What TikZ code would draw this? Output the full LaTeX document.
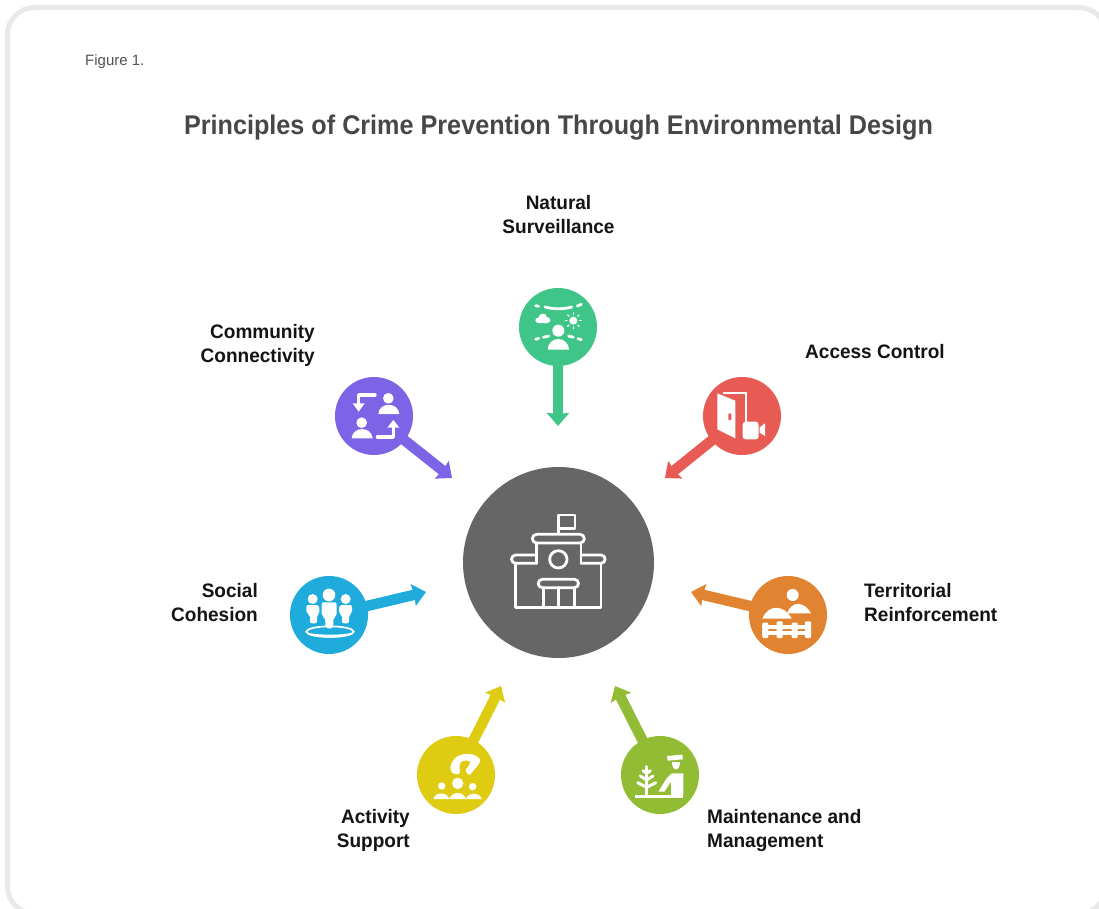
\documentclass[tikz,border=0pt]{standalone}
\usepackage{fontspec}
\setmainfont{Liberation Sans}
\newfontfamily\titlefont[FakeStretch=0.933]{Liberation Sans}
\newfontfamily\labfont[FakeStretch=0.975]{Liberation Sans}
\usetikzlibrary{arrows.meta}
\definecolor{cgreen}{HTML}{3FC587}
\definecolor{cred}{HTML}{E85A54}
\definecolor{cpurple}{HTML}{7D63E6}
\definecolor{cblue}{HTML}{1FABDC}
\definecolor{corange}{HTML}{E08431}
\definecolor{cyellow}{HTML}{DFCC12}
\definecolor{colive}{HTML}{92BC34}
\definecolor{cgrey}{HTML}{666666}
\definecolor{cframe}{HTML}{E8E9EA}
\tikzset{
  x=1pt,y=-1pt,
  hub/.style={circle,draw=none,inner sep=0pt,minimum size=78pt,fill=#1},
  arr/.style={draw=#1,line width=10.5pt,shorten <=-4pt,-{Stealth[width=22pt,length=13pt,inset=1pt]}},
  lab/.style={font=\labfont\fontsize{19.5}{24}\selectfont\bfseries,text=black!92,inner sep=0pt},
  wl/.style={draw=white,line cap=round,line join=round,line width=#1},
  wl/.default=2.2pt,
  ic/.style={shift={#1},scale=0.33333}
}
\begin{document}
\begin{tikzpicture}
\useasboundingbox (0,0) rectangle (1099,909);
\fill[white] (0,0) rectangle (1099,909);
\draw[draw=cframe,line width=5pt,rounded corners=27pt] (7.5,7.5) rectangle (1106,913.5);

\node[font=\fontsize{15}{17}\selectfont,text=black!68,anchor=base west,inner sep=0pt] (fig) at (85,66) {Figure 1.};
\node[font=\titlefont\fontsize{27}{32}\selectfont\bfseries,text=black!72,inner sep=0pt,anchor=base] (title) at (558.5,134.5) {Principles of Crime Prevention Through Environmental Design};

\node[circle,fill=cgrey,inner sep=0pt,minimum size=191pt] (c) at (558.5,562.5) {};
\node[hub=cgreen] (n1) at (558,327) {};
\node[hub=cred] (n2) at (742,416) {};
\node[hub=cpurple] (n3) at (374,416) {};
\node[hub=cblue] (n4) at (329,615) {};
\node[hub=corange] (n5) at (788,615) {};
\node[hub=cyellow] (n6) at (456,775) {};
\node[hub=colive] (n7) at (660,775) {};

\coordinate (t1) at (558,426);
\coordinate (t2) at (665,478);
\coordinate (t3) at (452,478);
\coordinate (t4) at (426,592);
\coordinate (t5) at (691,592);
\coordinate (t6) at (501,686);
\coordinate (t7) at (615,686);

\draw[arr=cgreen] (n1) -- (t1);
\draw[arr=cred] (n2) -- (t2);
\draw[arr=cpurple] (n3) -- (t3);
\draw[arr=cblue] (n4) -- (t4);
\draw[arr=corange] (n5) -- (t5);
\draw[arr=cyellow] (n6) -- (t6);
\draw[arr=colive] (n7) -- (t7);

\node[lab,align=center] (l1) at (558.5,215) {Natural\\Surveillance};
\node[lab,align=right,anchor=east] (l3) at (315,345) {Community\\Connectivity};
\node[lab,anchor=west] (l2) at (805,352) {Access Control};
\node[lab,align=right,anchor=east] (l4) at (258,603) {Social\\Cohesion};
\node[lab,align=left,anchor=west] (l5) at (864,602.5) {Territorial\\Reinforcement};
\node[lab,align=right,anchor=east] (l6) at (410,830) {Activity\\Support};
\node[lab,align=left,anchor=west] (l7) at (707,830) {Maintenance and\\Management};

% centre icon
\begin{scope}[ic={(495,500)}]
 \draw[wl=2.8pt] (190,100) -- (190,45) -- (240,45) -- (240,85) -- (190,85);
 \draw[wl=2.8pt] (125,103) -- (255,103) arc (-90:90:13) -- (125,129) arc (90:270:13) -- cycle;
 \draw[wl=2.8pt] (125,130) -- (125,190) (258,130) -- (258,190);
 \draw[wl=2.8pt] (125,165) -- (62,165) arc (270:90:12.5) -- (125,190);
 \draw[wl=2.8pt] (258,165) -- (318,165) arc (-90:90:12.5) -- (258,190);
 \draw[wl=2.8pt] (190,178) circle (26);
 \draw[wl=2.8pt] (62,190) -- (62,323) -- (318,323) -- (318,190);
 \draw[wl=2.8pt] (142,238) -- (238,238) arc (-90:90:12.5) -- (142,263) arc (90:270:12.5) -- cycle;
 \draw[wl=2.8pt] (145,263) -- (145,323) (190,263) -- (190,323) (238,263) -- (238,323);
\end{scope}

% natural surveillance
\begin{scope}[ic={(500,280)}]
 \draw[wl=2.8pt] (107,77) -- (116,79);
 \draw[wl=2.8pt] (135,81) .. controls (160,88) and (190,88) .. (215,81);
 \draw[wl=2.8pt] (232,78) -- (244,73);
 \fill[white] (116,129) .. controls (102,129) and (104,112) .. (115,113) .. controls (118,97) and (140,97) .. (140,111) .. controls (154,111) and (154,129) .. (142,129) -- cycle;
 \fill[white] (220,122) circle (12);
 \foreach \a in {0,45,...,315}{\draw[wl=1.3pt] (220,122) ++(\a:19) -- ++(\a:5);}
 \fill[white] (175,152) circle (18);
 \fill[white] (143,209) arc (180:360:32) -- cycle;
 \draw[wl=2.8pt] (107,178) -- (116,175) (130,172) -- (146,168) (206,168) -- (220,172) (234,176) -- (244,179);
\end{scope}

% access control
\begin{scope}[ic={(660,370)}]
 \fill[white] (172,70) -- (226,92) -- (226,205) -- (172,178) -- cycle;
 \draw[draw=white,line width=2pt] (190,69) -- (257,69) -- (257,155);
 \fill[cred,rounded corners=1pt] (205,130) rectangle (214,151);
 \fill[white,rounded corners=3pt] (248,155) rectangle (296,208);
 \fill[white] (299,172) -- (315,160) -- (315,198) -- (299,188) -- cycle;
\end{scope}

% community connectivity
\begin{scope}[ic={(325,370)}]
 \draw[wl=3.2pt] (150,75) -- (101,75) -- (101,103);
 \fill[white] (83,100) -- (119,100) -- (101,125) -- cycle;
 \fill[white] (190,85) circle (16);
 \fill[white] (160,132) .. controls (162,95) and (220,95) .. (223,132) -- cycle;
 \fill[white] (110,158) circle (16);
 \fill[white] (80,205) .. controls (82,168) and (140,168) .. (143,205) -- cycle;
 \draw[wl=3.2pt] (157,201) -- (205,201) -- (205,172);
 \fill[white] (187,173) -- (223,173) -- (205,150) -- cycle;
\end{scope}

% social cohesion
\begin{scope}[ic={(285,570)}]
 \draw[draw=white,line width=1.7pt] (135,185) ellipse (71 and 16);
 \fill[white] (62,185) .. controls (75,207) and (195,207) .. (208,185) .. controls (190,197) and (80,197) .. (62,185) -- cycle;
 \fill[white] (83,87) circle (15);
 \fill[white] (182,87) circle (15);
 \fill[white] (132,75) circle (19);
 \fill[white,rounded corners=2pt] (64,105) -- (102,105) -- (104,130) -- (96,134) -- (96,160) -- (75,160) -- (75,134) -- (64,130) -- cycle;
 \fill[white,rounded corners=2pt] (163,105) -- (201,105) -- (201,130) -- (192,134) -- (192,160) -- (171,160) -- (171,134) -- (161,130) -- cycle;
 \fill[white,rounded corners=2pt] (110,97) -- (155,97) -- (155,138) -- (146,142) -- (144,175) -- (122,175) -- (120,142) -- (110,138) -- cycle;
\end{scope}

% territorial reinforcement
\begin{scope}[ic={(685,570)}]
 \fill[white] (323,75) circle (18);
 \fill[white] (232,146) .. controls (250,100) and (300,105) .. (320,146) -- cycle;
 \fill[white] (306,130) .. controls (320,90) and (360,95) .. (378,130) -- cycle;
 \fill[white,rounded corners=1pt] (232,158) rectangle (250,204);
 \fill[white,rounded corners=1pt] (275,154) rectangle (293,204);
 \fill[white,rounded corners=1pt] (320,158) rectangle (338,204);
 \fill[white,rounded corners=1pt] (360,154) rectangle (378,204);
 \fill[white] (232,165) rectangle (378,177);
 \fill[white] (232,184) rectangle (378,196);
\end{scope}

% activity support
\begin{scope}[ic={(410,680)}]
 \fill[white,rounded corners=1.5pt] (122,272) .. controls (120,240) and (145,222) .. (172,222) .. controls (195,222) and (215,235) .. (208,250) -- (178,287) -- (165,272) -- (180,252) .. controls (182,245) and (170,240) .. (160,243) .. controls (148,247) and (148,265) .. (150,282) -- (130,282) -- cycle;
 \fill[white] (95,318) circle (11);
 \fill[white] (143,310) circle (17);
 \fill[white] (188,320) circle (11);
 \fill[white] (70,357) .. controls (75,335) and (112,335) .. (118,357) -- cycle;
 \fill[white] (118,357) .. controls (125,333) and (160,333) .. (168,357) -- cycle;
 \fill[white] (168,357) .. controls (175,335) and (208,335) .. (215,357) -- cycle;
\end{scope}

% maintenance
\begin{scope}[ic={(605,680)}]
 \draw[wl=3pt] (125,260) -- (125,345);
 \draw[wl=3pt] (114,272) -- (125,280) -- (136,272);
 \draw[wl=3pt] (106,288) -- (125,300) -- (144,288);
 \draw[wl=3pt] (98,308) -- (125,322) -- (152,308);
 \fill[white] (90,344) -- (235,344) -- (235,353) -- (90,353) -- cycle;
 \fill[white] (160,335) -- (185,295) -- (200,280) -- (235,280) -- (235,345) -- (198,345) -- (198,305) -- (178,335) -- cycle;
 \fill[white] (186,228) -- (232,224) -- (234,238) -- (188,242) -- cycle;
 \fill[white] (200,245) -- (226,245) .. controls (226,275) and (200,275) .. (200,245) -- cycle;
\end{scope}
\end{tikzpicture}
\end{document}
